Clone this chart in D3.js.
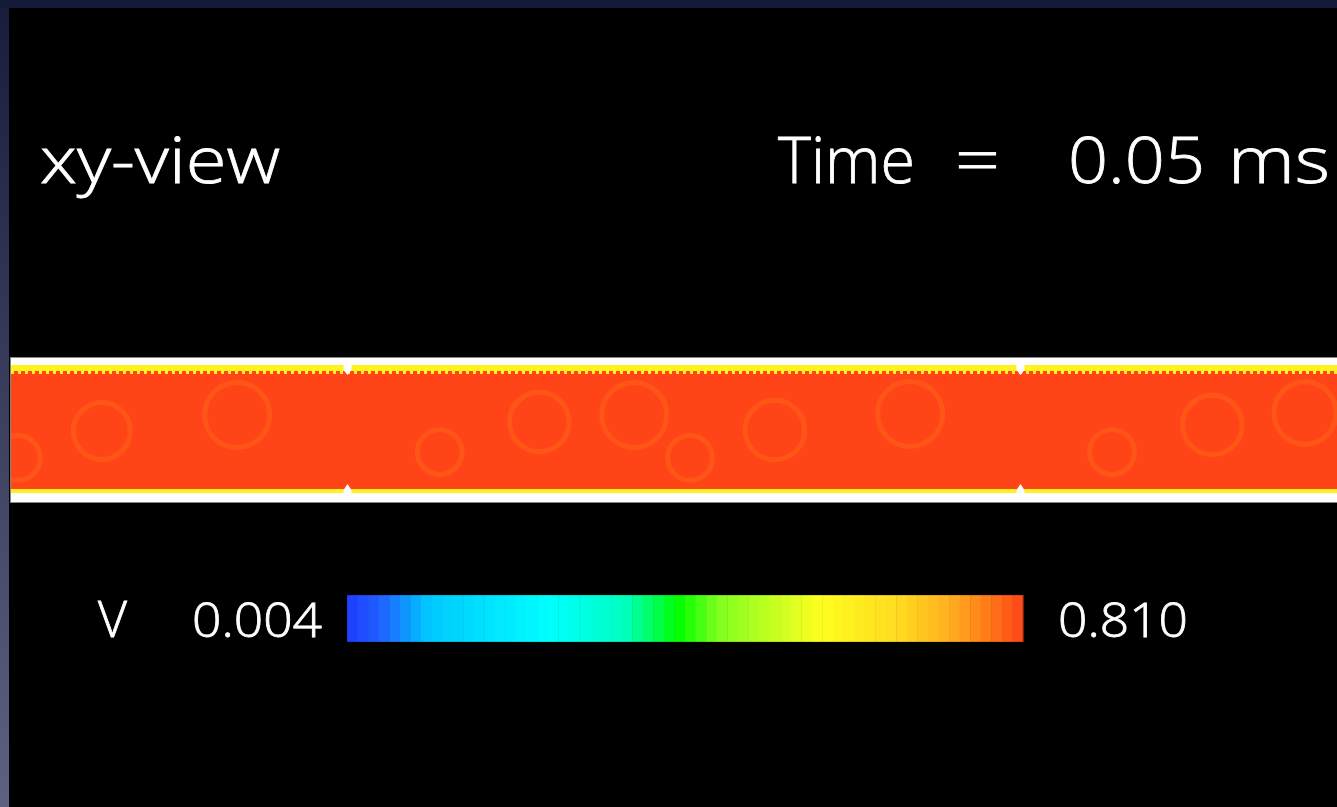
<!DOCTYPE html>
<html>
<head>
<meta charset="utf-8">
<script src="https://cdn.jsdelivr.net/npm/d3@7"></script>
<style>
  html, body { margin: 0; padding: 0; background: #000; overflow: hidden; }
  svg { display: block; }
  text { font-family: 'Open Sans', 'Liberation Sans', sans-serif; font-weight: 300; fill: #fff; stroke: #fff; stroke-width: 0.8; }
</style>
</head>
<body>
<div class="chart"></div>
<script>
// view info
const viewLabel = 'xy-view'
const timeLabel = ['Time', '=', '0.05', 'ms']
const varName = 'V'
const vMin = 0.004
const vMax = 0.810

// channel: x in panel lengths (notches at panel joints), y across channel 0..1
const panelJoints = [0.5, 1.5]
const cellX = [0.010, 0.135, 0.336, 0.637, 0.785, 0.926, 1.009, 1.135, 1.336, 1.636, 1.785, 1.923, 2.009]
const cellY = [0.694, 0.507, 0.396, 0.653, 0.444, 0.396, 0.694, 0.500, 0.389, 0.653, 0.465, 0.382, 0.694]
const cellR = [0.037, 0.046, 0.052, 0.037, 0.048, 0.052, 0.037, 0.048, 0.052, 0.037, 0.048, 0.050, 0.037]
const bulkV = 0.810
const ringV = 0.796
const edgeV = 0.600

// colour table of the bar
const cmapStops = [0, 0.05, 0.12, 0.30, 0.41, 0.49, 0.55, 0.70, 0.82, 0.89, 0.95, 1]
const cmapColors = ['#1e3cff', '#2060ff', '#00c8ff', '#00ffff', '#00ffc0', '#00ff00', '#80ff20',
  '#ffff20', '#ffd820', '#ffb020', '#ff7818', '#ff4418']
const nBands = 64

const width = 1337
const height = 807

const svg = d3.select('.chart').append('svg')
  .attr('width', width)
  .attr('height', height)

// window frame
const defs = svg.append('defs')
const grad = defs.append('linearGradient').attr('id', 'frame').attr('x1', 0).attr('y1', 0).attr('x2', 0).attr('y2', 1)
grad.append('stop').attr('offset', 0).attr('stop-color', '#181c3a')
grad.append('stop').attr('offset', 1).attr('stop-color', '#5e6280')
svg.append('rect').attr('width', width).attr('height', height).attr('fill', 'url(#frame)')
svg.append('rect').attr('x', 0).attr('y', 0).attr('width', width).attr('height', 8).attr('fill', '#15193a')
svg.append('rect').attr('x', 9).attr('y', 8).attr('width', width - 9).attr('height', height - 8).attr('fill', '#000')

const colorScale = d3.scaleLinear()
  .domain(cmapStops.map((t) => vMin + t * (vMax - vMin)))
  .range(cmapColors)
  .interpolate(d3.interpolateRgb)
  .clamp(true)

// titles
svg.append('text').attr('x', 40).attr('y', 183)
  .attr('font-size', 64).attr('textLength', 240).attr('lengthAdjust', 'spacingAndGlyphs')
  .text(viewLabel)
const timeX = [778, 955, 1068, 1228]
const timeW = [137, 45, 137, 102]
timeLabel.forEach((t, i) => {
  svg.append('text').attr('x', timeX[i]).attr('y', 183)
    .attr('font-size', 64).attr('textLength', timeW[i]).attr('lengthAdjust', 'spacingAndGlyphs')
    .text(t)
})

// channel
const chLeft = 11
const chTop = 358
const chBottom = 502
const x = d3.scaleLinear().domain([0, 1]).range([chLeft, chLeft + 673])
const y = d3.scaleLinear().domain([0, 1]).range([chTop, chBottom])

defs.append('clipPath').attr('id', 'chclip')
  .append('rect').attr('x', chLeft).attr('y', chTop).attr('width', width - chLeft).attr('height', chBottom - chTop)

const ch = svg.append('g').attr('clip-path', 'url(#chclip)')
ch.append('rect').attr('x', chLeft).attr('y', chTop).attr('width', width - chLeft).attr('height', chBottom - chTop)
  .attr('fill', colorScale(bulkV))

const cells = cellX.map((cx, i) => ({ cx, cy: cellY[i], r: cellR[i] }))
ch.selectAll('circle.cell')
  .data(cells)
  .enter()
  .append('circle')
  .attr('class', 'cell')
  .attr('cx', (d) => x(d.cx))
  .attr('cy', (d) => y(d.cy))
  .attr('r', (d) => x(d.r) - x(0) - 2.5)
  .attr('fill', 'none')
  .attr('stroke', colorScale(ringV))
  .attr('stroke-width', 5)

// walls: white outside, yellow jagged layer inside
const edge = colorScale(edgeV)
const teeth = d3.range(chLeft, width, 7)
ch.append('rect').attr('x', chLeft).attr('y', chTop + 6).attr('width', width).attr('height', 10).attr('fill', edge)
ch.append('rect').attr('x', chLeft).attr('y', chBottom - 13).attr('width', width).attr('height', 5).attr('fill', edge)
ch.selectAll('rect.tooth')
  .data(teeth)
  .enter()
  .append('rect')
  .attr('class', 'tooth')
  .attr('x', (d) => d + 3)
  .attr('y', chTop + 13)
  .attr('width', 4)
  .attr('height', 3)
  .attr('fill', colorScale(bulkV))
ch.append('rect').attr('x', chLeft).attr('y', chTop).attr('width', width).attr('height', 7).attr('fill', '#fff')
ch.append('rect').attr('x', chLeft).attr('y', chBottom - 9).attr('width', width).attr('height', 9).attr('fill', '#fff')
ch.selectAll('path.notch')
  .data(panelJoints)
  .enter()
  .append('path')
  .attr('class', 'notch')
  .attr('d', (d) => `M${x(d) - 4},${chTop + 6}h8v6l-4,5l-4,-5z M${x(d) - 4},${chBottom - 8}h8v-4l-4,-6l-4,6z`)
  .attr('fill', '#fff')
svg.append('rect').attr('x', chLeft - 0.5).attr('y', chTop - 0.5).attr('width', width).attr('height', chBottom - chTop + 1)
  .attr('fill', 'none').attr('stroke', '#888').attr('stroke-width', 1)

// colour bar
const barX = d3.scaleLinear().domain([vMin, vMax]).range([347, 1023])
const barTop = 595
const barH = 47
const bands = d3.range(nBands).map((i) => vMin + (i / nBands) * (vMax - vMin))
const step = (vMax - vMin) / nBands
svg.append('g').selectAll('rect')
  .data(bands)
  .enter()
  .append('rect')
  .attr('x', (d) => barX(d))
  .attr('y', barTop)
  .attr('width', (d) => barX(d + step) - barX(d) + 0.5)
  .attr('height', barH)
  .attr('fill', (d) => colorScale(d + step / 2))
svg.append('rect').attr('x', barX(vMin)).attr('y', barTop).attr('width', barX(vMax) - barX(vMin)).attr('height', barH)
  .attr('fill', 'none').attr('stroke', 'rgba(0,0,0,0.25)').attr('stroke-width', 1)

svg.append('text').attr('x', 98).attr('y', 637).attr('font-size', 50).text(varName)
svg.append('text').attr('x', 192).attr('y', 637).attr('font-size', 47)
  .attr('textLength', 130).attr('lengthAdjust', 'spacingAndGlyphs').text(vMin.toFixed(3))
svg.append('text').attr('x', 1058).attr('y', 637).attr('font-size', 47)
  .attr('textLength', 130).attr('lengthAdjust', 'spacingAndGlyphs').text(vMax.toFixed(3))
</script>
</body>
</html>
